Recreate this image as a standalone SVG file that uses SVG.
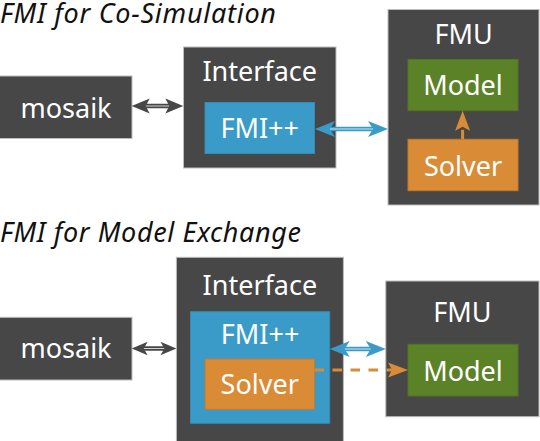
<svg xmlns="http://www.w3.org/2000/svg" width="540" height="441" viewBox="0 0 540 441">
<style>
.box{fill:#474747;stroke:#bdbdbd;stroke-width:1}
.blue{fill:#3a9bc8;stroke:#348bb4;stroke-width:1}
.green{fill:#5b8227;stroke:#527523;stroke-width:1}
.orange{fill:#d98b36;stroke:#c27b2f;stroke-width:1}
.lbl{font-family:"Noto Sans","DejaVu Sans",sans-serif;font-size:27px;fill:#ffffff;text-anchor:middle}
.title{font-family:"Noto Sans","DejaVu Sans",sans-serif;font-size:27px;font-style:italic;fill:#111111}
.sg{stroke:#474747;stroke-width:4.5;fill:none}
.sb{stroke:#3a9bc8;stroke-width:4.5;fill:none}
.inner{stroke:#ffffff;stroke-width:1;stroke-opacity:0.75;fill:none}
.so{stroke:#d98b36;stroke-width:3;fill:none;stroke-dasharray:9.5 8.5}
</style>
<defs>
<marker id="hg" markerUnits="userSpaceOnUse" markerWidth="20" markerHeight="20" refX="4" refY="10" orient="auto-start-reverse" overflow="visible">
<path d="M0,2.5 L18,10 L0,17.5 L4,10 Z" fill="#474747"/>
</marker>
<marker id="hg2" markerUnits="userSpaceOnUse" markerWidth="20" markerHeight="20" refX="4" refY="10" orient="auto-start-reverse" overflow="visible">
<path d="M0,3.3 L16,10 L0,16.7 L4,10 Z" fill="#474747"/>
</marker>
<marker id="hb" markerUnits="userSpaceOnUse" markerWidth="22" markerHeight="20" refX="5" refY="10" orient="auto-start-reverse" overflow="visible">
<path d="M0,2 L20,10 L0,18 L5,10 Z" fill="#3a9bc8"/>
</marker>
<marker id="ho" markerUnits="userSpaceOnUse" markerWidth="22" markerHeight="20" refX="4" refY="10" orient="auto" overflow="visible">
<path d="M0,2.5 L20,10 L0,17.5 L4,10 Z" fill="#d98b36"/>
</marker>
</defs>

<text class="title" x="0" y="22.5" textLength="276" lengthAdjust="spacing">FMI for Co-Simulation</text>
<text class="title" x="0" y="242" textLength="301" lengthAdjust="spacing">FMI for Model Exchange</text>

<g id="mosaik1">
<rect class="box" x="-1" y="76" width="133" height="62.5"/>
<text class="lbl" x="66" y="118">mosaik</text>
</g>
<g id="interface1">
<rect class="box" x="183.5" y="47" width="152.5" height="121"/>
<text class="lbl" x="259.7" y="81">Interface</text>
</g>
<g id="fmipp1">
<rect class="blue" x="205" y="102.5" width="109.5" height="51"/>
<text class="lbl" x="259.7" y="137.5">FMI++</text>
</g>
<g id="fmu1">
<rect class="box" x="388" y="9.5" width="151" height="195.5"/>
<text class="lbl" x="463.5" y="44">FMU</text>
</g>
<g id="model1">
<rect class="green" x="408" y="59.5" width="110" height="51.2"/>
<text class="lbl" x="463" y="95">Model</text>
</g>
<g id="solver1">
<rect class="orange" x="408" y="139.3" width="110" height="51.4"/>
<text class="lbl" x="463" y="175.7">Solver</text>
</g>

<g id="mosaik2">
<rect class="box" x="-1" y="317.3" width="133" height="62.7"/>
<text class="lbl" x="66" y="358.3">mosaik</text>
</g>
<g id="interface2">
<rect class="box" x="176.4" y="257.3" width="167" height="190"/>
<text class="lbl" x="259.9" y="295">Interface</text>
</g>
<g id="fmipp2">
<rect class="blue" x="190.5" y="311.7" width="139.2" height="111.6"/>
<text class="lbl" x="260.1" y="344.3">FMI++</text>
</g>
<g id="solver2">
<rect class="orange" x="205" y="359" width="109.5" height="50.3"/>
<text class="lbl" x="259.7" y="394.3">Solver</text>
</g>
<g id="fmu2">
<rect class="box" x="385.8" y="281" width="153.2" height="135.7"/>
<text class="lbl" x="462.4" y="322.3">FMU</text>
</g>
<g id="model2">
<rect class="green" x="408" y="344.3" width="110" height="51.7"/>
<text class="lbl" x="463" y="381">Model</text>
</g>

<g id="connectors">
<path class="sg" d="M145.7,106 L169.3,106" marker-start="url(#hg)" marker-end="url(#hg)"/>
<path class="inner" d="M146,106 L169,106"/>
<path class="sb" d="M330,129 L373,129" marker-start="url(#hb)" marker-end="url(#hb)"/>
<path class="inner" d="M330,129 L373,129"/>
<path class="so" d="M462.6,139.3 L462.6,126.7" marker-end="url(#ho)"/>

<path class="sg" d="M143.7,348.5 L164.4,348.5" marker-start="url(#hg2)" marker-end="url(#hg2)"/>
<path class="inner" d="M144,348.5 L164,348.5"/>
<path class="sb" d="M344.7,349 L370.8,349" marker-start="url(#hb)" marker-end="url(#hb)"/>
<path class="inner" d="M345,349 L370.5,349"/>
<path class="so" d="M314.5,370 L392,370" marker-end="url(#ho)"/>
</g>
</svg>
